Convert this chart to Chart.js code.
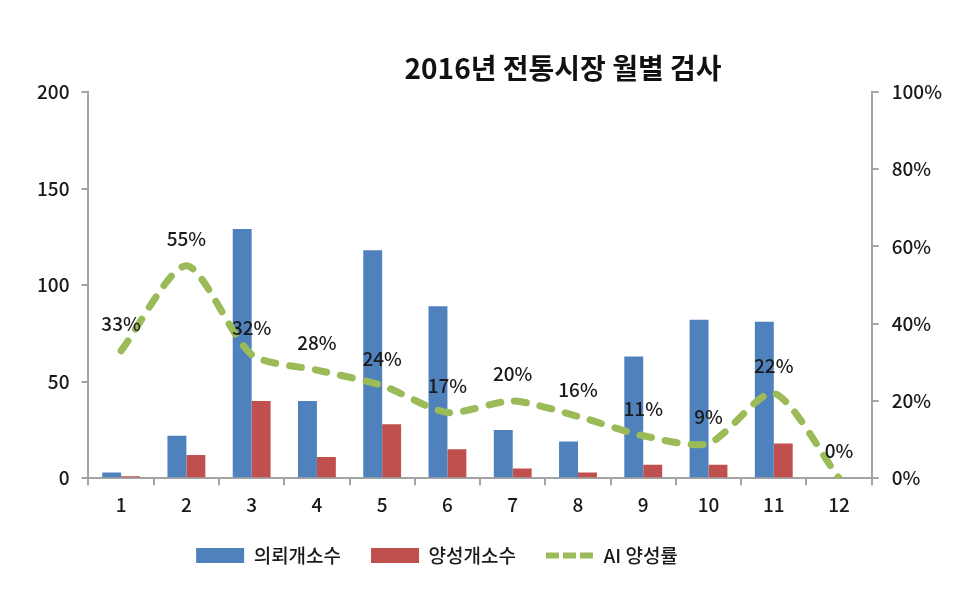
<!doctype html>
<html>
<head>
<meta charset="utf-8">
<title>2016년 전통시장 월별 검사</title>
<script src="https://cdn.jsdelivr.net/npm/chart.js"></script>
<style>
  html, body { margin: 0; padding: 0; background: #fff; }
  #wrap { width: 964px; height: 616px; }
</style>
</head>
<body>
<div id="wrap"><canvas id="chart" width="964" height="616"></canvas></div>
<script>
// data
const months = ['1', '2', '3', '4', '5', '6', '7', '8', '9', '10', '11', '12'];
const requested = [3, 22, 129, 40, 118, 89, 25, 19, 63, 82, 81, 0];   // 의뢰개소수
const positive = [1, 12, 40, 11, 28, 15, 5, 3, 7, 7, 18, 0];          // 양성개소수
const rate = [33, 55, 32, 28, 24, 17, 20, 16, 11, 9, 22, 0];          // AI 양성률 (%)
const leftTicks = [0, 50, 100, 150, 200];
const rightTicks = [0, 20, 40, 60, 80, 100];

const FONT = '"Noto Sans CJK KR", "Noto Sans", sans-serif';
const AXIS = '#a3a3a3';
const INK = '#1a1a1a';

// percent labels above the line points
const rateLabels = {
  id: 'rateLabels',
  afterDatasetsDraw(chart) {
    const meta = chart.getDatasetMeta(2);
    const ctx = chart.ctx;
    ctx.save();
    ctx.font = '500 19px ' + FONT;
    ctx.fillStyle = INK;
    ctx.textAlign = 'center';
    ctx.textBaseline = 'middle';
    meta.data.forEach((pt, i) => {
      ctx.fillText(rate[i] + '%', pt.x, pt.y - 27);
    });
    ctx.restore();
  }
};

// title sits right of centre in the original, legend a bit left
const placement = {
  id: 'placement',
  afterLayout(chart) {
    const lg = chart.legend;
    lg.left -= 53;
    lg.right -= 53;
    lg.top -= 8;
    lg.bottom -= 8;
  },
  afterDraw(chart) {
    const ctx = chart.ctx;
    const a = chart.chartArea;
    ctx.save();
    ctx.font = 'bold 28px ' + FONT;
    ctx.fillStyle = '#111';
    ctx.textAlign = 'center';
    ctx.textBaseline = 'middle';
    ctx.fillText('2016년 전통시장 월별 검사', (a.left + a.right) / 2 + 83, 68);
    ctx.restore();
  }
};

new Chart(document.getElementById('chart'), {
  data: {
    labels: months,
    datasets: [
      {
        type: 'bar',
        label: '의뢰개소수',
        data: requested,
        backgroundColor: '#4F81BD',
        yAxisID: 'y',
        order: 1,
        barPercentage: 1.0,
        categoryPercentage: 0.58
      },
      {
        type: 'bar',
        label: '양성개소수',
        data: positive,
        backgroundColor: '#C0504D',
        yAxisID: 'y',
        order: 1,
        barPercentage: 1.0,
        categoryPercentage: 0.58
      },
      {
        type: 'line',
        label: 'AI 양성률',
        data: rate,
        borderColor: '#9BBB59',
        backgroundColor: '#9BBB59',
        borderWidth: 7,
        borderDash: [12, 14],
        borderCapStyle: 'round',
        tension: 0.25,
        pointRadius: 0,
        fill: false,
        yAxisID: 'y1',
        order: 0
      }
    ]
  },
  options: {
    responsive: false,
    animation: false,
    layout: { padding: { top: 92, left: 25, right: 9, bottom: 33 } },
    plugins: {
      tooltip: { enabled: false },
      legend: {
        position: 'bottom',
        labels: {
          font: { family: FONT, size: 19, weight: '500' },
          color: INK,
          usePointStyle: true,
          pointStyleWidth: 48,
          boxHeight: 15,
          padding: 30,
          sort: (a, b) => a.datasetIndex - b.datasetIndex,
          generateLabels(chart) {
            return chart.data.datasets.map((ds, i) => ({
              text: ds.label,
              datasetIndex: i,
              fillStyle: ds.backgroundColor,
              strokeStyle: ds.type === 'line' ? ds.borderColor : ds.backgroundColor,
              lineWidth: ds.type === 'line' ? 6 : 0,
              lineDash: ds.type === 'line' ? [13, 4] : [],
              lineCap: 'butt',
              pointStyle: ds.type === 'line' ? 'line' : 'rect',
              fontColor: INK,
              hidden: false
            }));
          }
        }
      }
    },
    scales: {
      x: {
        grid: { drawOnChartArea: false, drawTicks: true, tickLength: 7, color: AXIS, lineWidth: 2 },
        border: { color: AXIS, width: 2 },
        ticks: { font: { family: FONT, size: 19, weight: '500' }, color: INK, padding: 8 }
      },
      y: {
        position: 'left',
        min: 0,
        max: 200,
        afterBuildTicks: (axis) => { axis.ticks = leftTicks.map(v => ({ value: v })); },
        grid: { drawOnChartArea: false, drawTicks: true, tickLength: 7, color: AXIS, lineWidth: 2 },
        border: { color: AXIS, width: 2 },
        ticks: { font: { family: FONT, size: 19, weight: '500' }, color: INK, padding: 12 }
      },
      y1: {
        position: 'right',
        min: 0,
        max: 100,
        afterBuildTicks: (axis) => { axis.ticks = rightTicks.map(v => ({ value: v })); },
        grid: { drawOnChartArea: false, drawTicks: true, tickLength: 7, color: AXIS, lineWidth: 2 },
        border: { color: AXIS, width: 2 },
        ticks: { font: { family: FONT, size: 19, weight: '500' }, color: INK, padding: 13, callback: v => v + '%' }
      }
    }
  },
  plugins: [rateLabels, placement]
});
</script>
</body>
</html>
